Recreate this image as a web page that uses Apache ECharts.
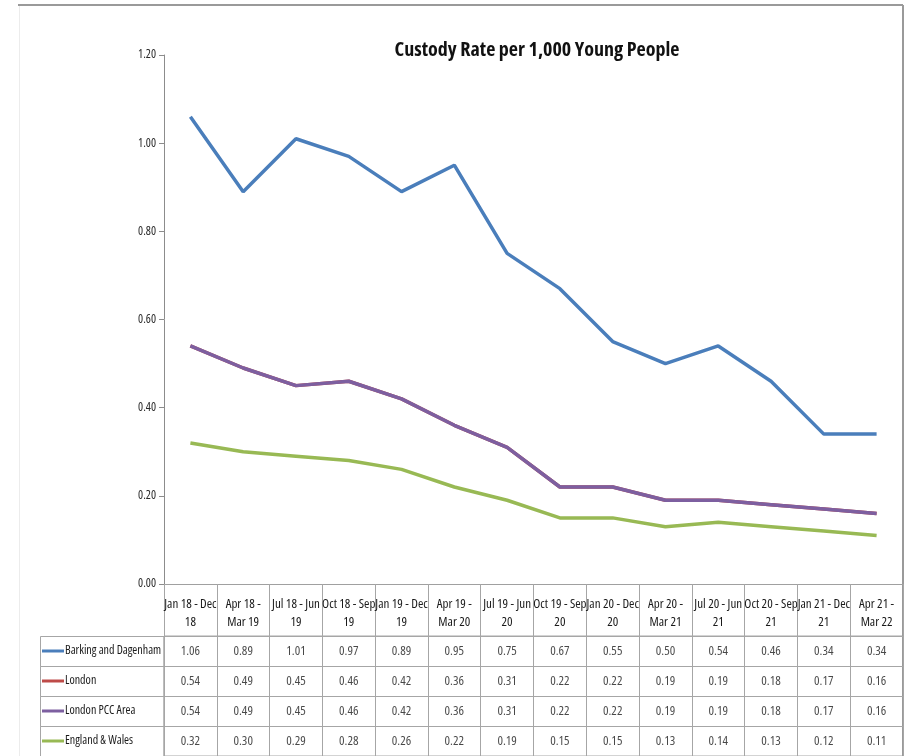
<!DOCTYPE html>
<html>
<head>
<meta charset="utf-8">
<style>
  html, body { margin: 0; padding: 0; background: #fff; }
  #chart { width: 906px; height: 756px; }
</style>
<script src="https://cdn.jsdelivr.net/npm/echarts@6/dist/echarts.min.js"></script>
</head>
<body>
<div id="chart"></div>
<script>
// ---- data ----
const categories = [
  'Jan 18 - Dec\n18', 'Apr 18 -\nMar 19', 'Jul 18 - Jun\n19', 'Oct 18 - Sep\n19',
  'Jan 19 - Dec\n19', 'Apr 19 -\nMar 20', 'Jul 19 - Jun\n20', 'Oct 19 - Sep\n20',
  'Jan 20 - Dec\n20', 'Apr 20 -\nMar 21', 'Jul 20 - Jun\n21', 'Oct 20 - Sep\n21',
  'Jan 21 - Dec\n21', 'Apr 21 -\nMar 22'
];
const seriesNames = ['Barking and Dagenham', 'London', 'London PCC Area', 'England & Wales'];
const barking = [1.06, 0.89, 1.01, 0.97, 0.89, 0.95, 0.75, 0.67, 0.55, 0.50, 0.54, 0.46, 0.34, 0.34];
const london = [0.54, 0.49, 0.45, 0.46, 0.42, 0.36, 0.31, 0.22, 0.22, 0.19, 0.19, 0.18, 0.17, 0.16];
const londonPcc = [0.54, 0.49, 0.45, 0.46, 0.42, 0.36, 0.31, 0.22, 0.22, 0.19, 0.19, 0.18, 0.17, 0.16];
const englandWales = [0.32, 0.30, 0.29, 0.28, 0.26, 0.22, 0.19, 0.15, 0.15, 0.13, 0.14, 0.13, 0.12, 0.11];
const yTicks = [0, 0.2, 0.4, 0.6, 0.8, 1.0, 1.2];

const colors = ['#4a7ebb', '#be4b48', '#7d5fa0', '#98b954'];
const allValues = [barking, london, londonPcc, englandWales];
const FONT = "'Open Sans', sans-serif";
const STRETCH = 'condensed';   // Open Sans is variable, this gives the narrow face
const GRID_LINE = '#a6a6a6';
const TXT = '#1a1a1a';

const chart = echarts.init(document.getElementById('chart'));

// cells of the data table, drawn as invisible scatter points carrying labels
const tableSeries = allValues.map((vals, r) => ({
  type: 'scatter',
  xAxisIndex: 1,
  yAxisIndex: 1,
  symbolSize: 0,
  silent: true,
  data: vals.map((v, i) => [i, r, v]),
  label: {
    show: true,
    position: 'inside',
    formatter: p => p.value[2].toFixed(2),
    color: TXT,
    fontFamily: FONT,
    fontStyle: STRETCH,
    fontSize: 13
  }
}));

// rich styles for the little legend keys in the table
const rich = {};
colors.forEach((c, i) => {
  rich['k' + i] = { width: 22, height: 3, backgroundColor: c };
});
rich.t = { fontFamily: FONT, fontStyle: STRETCH, fontSize: 12, color: TXT, padding: [0, 0, 0, 1] };

// label column borders of the table
const labelCells = seriesNames.map((n, i) => ({
  type: 'rect',
  shape: { x: 40.5, y: 636.5 + i * 30, width: 123.5, height: 30 },
  style: { fill: 'none', stroke: GRID_LINE, lineWidth: 1 },
  silent: true
}));

chart.setOption({
  animation: false,
  backgroundColor: '#fff',
  grid: [
    { left: 164, right: 3, top: 55, height: 529 },
    { left: 164, right: 3, top: 636, height: 120, show: true, borderColor: GRID_LINE, borderWidth: 1 }
  ],
  xAxis: [
    {
      type: 'category',
      gridIndex: 0,
      data: categories,
      boundaryGap: true,
      axisLine: { lineStyle: { color: '#a0a0a0', width: 1 } },
      axisTick: { show: true, interval: 0, length: 52, lineStyle: { color: GRID_LINE } },
      axisLabel: {
        interval: 0,
        margin: 11,
        color: TXT,
        fontFamily: FONT,
        fontStyle: STRETCH,
        fontSize: 13,
        lineHeight: 18
      }
    },
    {
      type: 'category',
      gridIndex: 1,
      data: categories,
      boundaryGap: true,
      axisLine: { show: false },
      axisTick: { show: false },
      axisLabel: { show: false },
      splitLine: { show: true, interval: 0, lineStyle: { color: GRID_LINE } }
    }
  ],
  yAxis: [
    {
      type: 'value',
      gridIndex: 0,
      min: yTicks[0],
      max: yTicks[yTicks.length - 1],
      interval: 0.2,
      axisLine: { show: true, lineStyle: { color: '#8c8c8c' } },
      axisTick: { show: true, length: 5, lineStyle: { color: '#8c8c8c' } },
      splitLine: { show: false },
      axisLabel: {
        margin: 8,
        color: '#2a2a2a',
        fontFamily: FONT,
        fontStyle: STRETCH,
        fontSize: 12,
        formatter: v => v.toFixed(2)
      }
    },
    {
      type: 'category',
      gridIndex: 1,
      data: seriesNames,
      inverse: true,
      axisLine: { show: false },
      axisTick: { show: false },
      splitLine: { show: true, interval: 0, lineStyle: { color: GRID_LINE } },
      axisLabel: {
        align: 'left',
        margin: 122,
        formatter: (name, idx) => '{k' + idx + '|}{t|' + name + '}',
        rich: rich
      }
    }
  ],
  graphic: [
    {
      type: 'text',
      x: 537,
      y: 50,
      style: {
        text: 'Custody Rate per 1,000 Young People',
        textAlign: 'center',
        textVerticalAlign: 'middle',
        font: STRETCH + " bold 20px " + FONT,
        fill: '#111'
      }
    },
    // outer chart border
    { type: 'line', shape: { x1: 18, y1: 5, x2: 903, y2: 5 }, style: { stroke: '#9a9a9a', lineWidth: 2 } },
    { type: 'line', shape: { x1: 903, y1: 5, x2: 903, y2: 756 }, style: { stroke: '#9a9a9a', lineWidth: 2 } },
    { type: 'line', shape: { x1: 19.5, y1: 6, x2: 19.5, y2: 756 }, style: { stroke: '#ececec', lineWidth: 1 } },
    ...labelCells
  ],
  series: [
    ...allValues.map((vals, i) => ({
      name: seriesNames[i],
      type: 'line',
      xAxisIndex: 0,
      yAxisIndex: 0,
      data: vals,
      symbol: 'none',
      lineStyle: { color: colors[i], width: 3.5 },
      itemStyle: { color: colors[i] }
    })),
    ...tableSeries
  ]
});
</script>
</body>
</html>
